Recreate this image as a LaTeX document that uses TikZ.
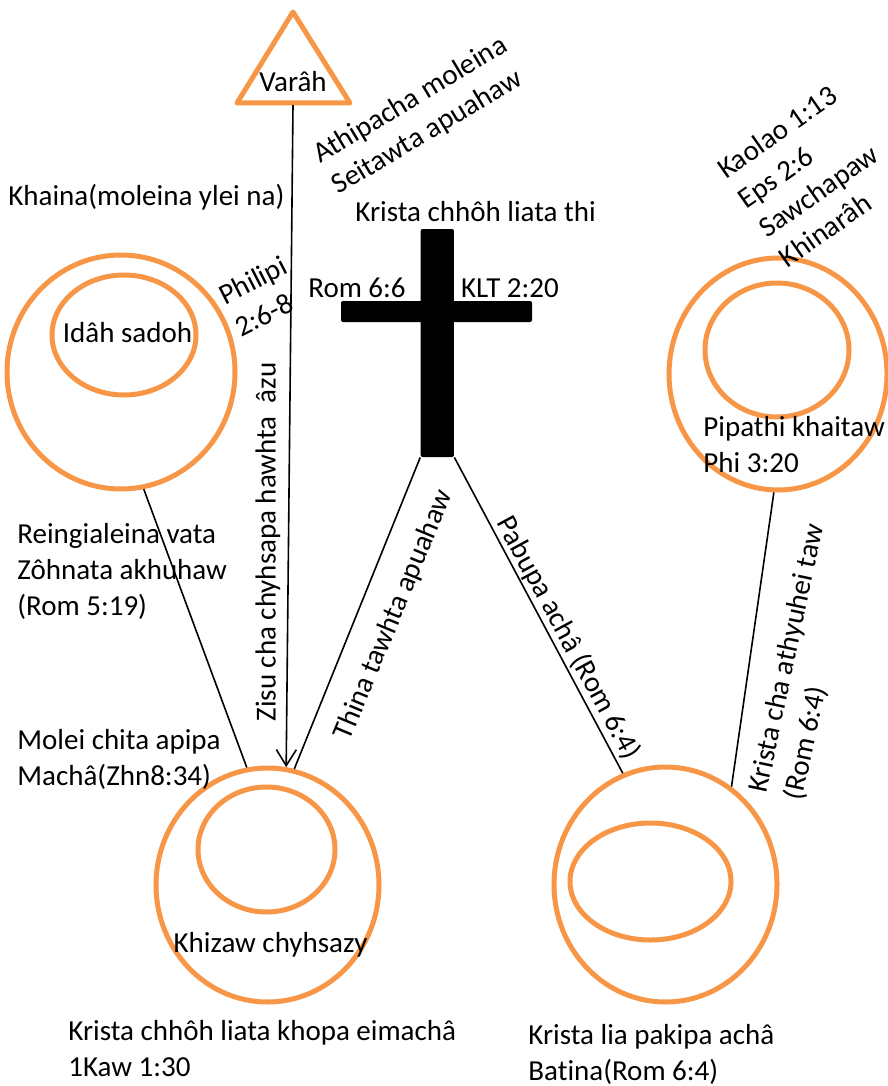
\documentclass[tikz,border=0pt]{standalone}
\usepackage{fontspec}
\setmainfont{Carlito}[Ligatures=NoCommon]
\usetikzlibrary{shapes.geometric,arrows.meta}
\definecolor{accorange}{HTML}{F79646}
\begin{document}
\begin{tikzpicture}[x=0.5pt,y=-0.5pt,
  every node/.style={font=\fontsize{14.5pt}{18pt}\selectfont, inner sep=0pt, text=black},
  ring/.style n args={2}{draw=accorange, line width=2.5pt, ellipse, inner sep=0pt, minimum width=#1, minimum height=#2},
  crossbar/.style={fill=black, rectangle, rounded corners=1pt, inner sep=0pt},
  conn/.style={draw=black, line width=0.8pt},
  tip/.style={-{Straight Barb[length=8pt,width=10pt,line width=0.8pt]}}]
\useasboundingbox (0,0) rectangle (888,1086);
% triangle
\draw[accorange, line width=2.5pt, line join=round] (293,12) -- (350,103) -- (237,103) -- cycle;
\coordinate (tribase) at (293,105);
% rings
\node[ring={114pt}{117pt}] (tlo) at (121,372) {};
\node[ring={72pt}{60pt}] (tli) at (124,335) {};
\node[ring={109pt}{116pt}] (tro) at (778,374) {};
\node[ring={72pt}{67pt}] (tri) at (777,350) {};
\node[ring={111.5pt}{117pt}] (blo) at (267.5,885) {};
\node[ring={68.5pt}{62.5pt}] (bli) at (266.5,849.5) {};
\node[ring={111.5pt}{117.5pt}] (bro) at (665.5,884.5) {};
\node[ring={80.5pt}{58.5pt}] (bri) at (650.5,881.5) {};
% cross
\node[crossbar, minimum width=16.65pt, minimum height=114pt] (cv) at (437.3,343) {};
\node[crossbar, minimum width=95.5pt, minimum height=10.5pt] (ch) at (436.5,311.5) {};
% connectors
\draw[conn] (cv.south west) -- (blo.77.4);
\draw[conn] (cv.south east) -- (bro.111.4);
\draw[conn] (tlo.-79.5) -- (blo.100);
\draw[conn] (tro.-92) -- (bro.56.7);
\draw[conn, tip] (tribase) -- (blo.81.8);
% texts
\node (varah) at (293,82) {Varâh};
\node[rotate=31, align=left] (athi) at (420,116) {Athipacha moleina\\Seitawta apuahaw};
\node[rotate=35, align=left] (kaolao) at (808,176) {Kaolao 1:13\\Eps 2:6\\Sawchapaw\\Khinarâh};
\node[anchor=west] (khaina) at (8,197) {Khaina(moleina ylei na)};
\node[anchor=west] (kristathi) at (355,212) {Krista chhôh liata thi};
\node (rom66) at (357,288) {Rom 6:6};
\node (klt) at (510,288) {KLT 2:20};
\node[rotate=27, align=left] (philipi) at (261,296) {Philipi\\2:6-8};
\node (idah) at (127.5,333) {Idâh sadoh};
\node[anchor=west, align=left] (pipathi) at (703,445) {Pipathi khaitaw\\Phi 3:20};
\node[rotate=90] (zisu) at (268,542) {Zisu cha chyhsapa hawhta~ âzu};
\node[rotate=67.5] (thina) at (394,615) {Thina tawhta apuahaw};
\node[rotate=-61.5] (pabupa) at (568,638) {Pabupa achâ (Rom 6:4)};
\node[rotate=78, align=left] (athyu) at (805,662) {Krista cha athyuhei taw\\(Rom 6:4)};
\node[anchor=west, align=left] (reing) at (17,571) {Reingialeina vata\\Zôhnata akhuhaw\\(Rom 5:19)};
\node[anchor=west, align=left] (molei) at (17,759.5) {Molei chita apipa\\Machâ(Zhn8:34)};
\node (khizaw) at (270.5,945) {Khizaw chyhsazy};
\node[anchor=west, align=left] (kristak) at (68,1049) {Krista chhôh liata khopa eimachâ\\1Kaw 1:30};
\node[anchor=west, align=left] (kristal) at (528,1054) {Krista lia pakipa achâ\\Batina(Rom 6:4)};
\end{tikzpicture}
\end{document}
